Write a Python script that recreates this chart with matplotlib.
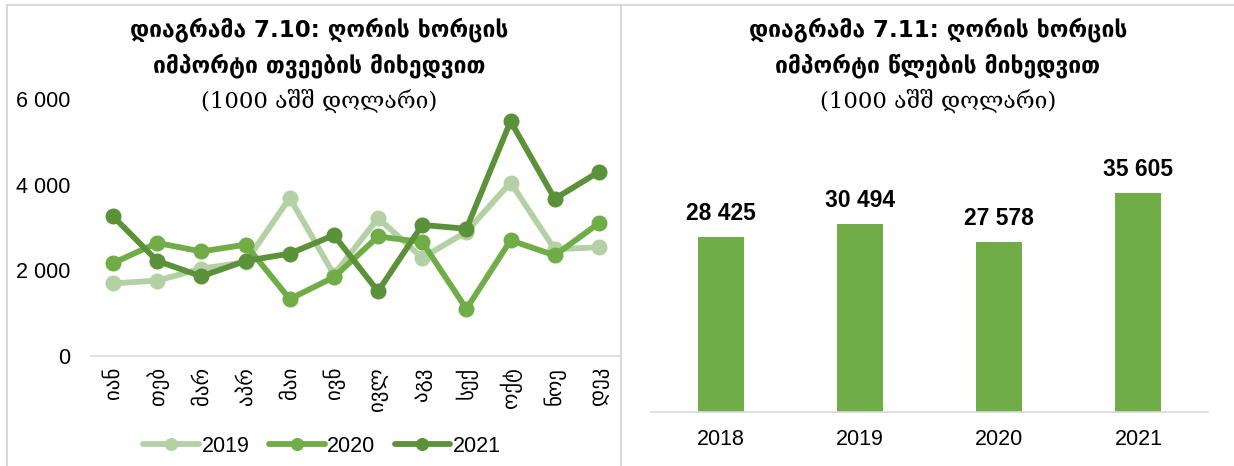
import matplotlib
matplotlib.use("Agg")
import matplotlib.pyplot as plt
from matplotlib.lines import Line2D
from matplotlib.ticker import FuncFormatter

months = ["იან", "თებ", "მარ", "აპრ", "მაი", "ივნ", "ივლ", "აგვ", "სექ", "ოქტ", "ნოე", "დეკ"]
v2019 = [1695, 1760, 2040, 2190, 3690, 1900, 3220, 2290, 2900, 4050, 2490, 2540]
v2020 = [2170, 2640, 2440, 2600, 1330, 1840, 2790, 2660, 1100, 2700, 2350, 3100]
v2021 = [3260, 2220, 1860, 2220, 2390, 2820, 1510, 3060, 2970, 5480, 3670, 4300]
series_names = ["2019", "2020", "2021"]

years = ["2018", "2019", "2020", "2021"]
year_totals = [28425, 30494, 27578, 35605]

c2019 = "#b4d1a6"
c2020 = "#70ad47"
c2021 = "#5b9239"

W, H = 1234, 466
fig = plt.figure(figsize=(W / 100, H / 100), dpi=100)
fig.patch.set_facecolor("white")

def fx(x):
    return x / W

def fy(y):
    return 1 - y / H

num_font = "Liberation Sans"
geo_bold = dict(family="DejaVu Sans", weight="bold")

# panel borders
border = "#d9d9d9"
for (x0, y0, x1, y1) in [(7, 5, 619, 5), (7, 5, 7, 466), (621, 5, 621, 466), (621, 5, 1234, 5)]:
    fig.add_artist(Line2D([fx(x0), fx(x1)], [fy(y0), fy(y1)], color=border, lw=1.5,
                          transform=fig.transFigure))

fmt = FuncFormatter(lambda v, p: f"{int(v):,}".replace(",", " "))

# ---------- left: monthly lines ----------
ax1 = fig.add_axes([fx(91), fy(356), fx(621) - fx(91), fy(99) - fy(356)])
x = list(range(len(months)))
for vals, col, name in [(v2019, c2019, "2019"), (v2020, c2020, "2020"), (v2021, c2021, "2021")]:
    ax1.plot(x, vals, color=col, lw=4.2, marker="o", ms=10.5, label=name,
             solid_capstyle="round", solid_joinstyle="round")
ax1.set_xlim(-0.5, 11.5)
ax1.set_ylim(0, 6000)
ax1.set_yticks([0, 2000, 4000, 6000])
ax1.yaxis.set_major_formatter(fmt)
ax1.set_xticks(x)
ax1.set_xticklabels(months, rotation=90, family="DejaVu Sans", fontsize=15)
for lab in ax1.get_yticklabels():
    lab.set_fontfamily(num_font)
    lab.set_fontsize(15.5)
ax1.tick_params(axis="y", length=0, pad=15)
ax1.tick_params(axis="x", length=0, pad=8)
for s in ["top", "right", "left"]:
    ax1.spines[s].set_visible(False)
ax1.spines["bottom"].set_color("#d9d9d9")
ax1.spines["bottom"].set_linewidth(1.2)
ax1.patch.set_alpha(0)

leg = fig.legend(handles=ax1.get_lines(), labels=series_names, loc="center",
                 bbox_to_anchor=(fx(322), fy(446)), ncol=3, frameon=False,
                 prop=dict(family=num_font, size=15.5), handlelength=2.6,
                 handletextpad=0.1, columnspacing=0.9, markerscale=0.8)

# titles
def titles(cx, l1, l2, l3):
    fig.text(fx(cx), fy(30), l1, ha="center", va="center", fontsize=16.5, **geo_bold)
    fig.text(fx(cx), fy(66), l2, ha="center", va="center", fontsize=16.5, **geo_bold)
    fig.text(fx(cx), fy(101), l3, ha="center", va="center", fontsize=16.5,
             family=["DejaVu Serif Condensed", "DejaVu Serif"])

titles(319, "დიაგრამა 7.10: ღორის ხორცის", "იმპორტი თვეების მიხედვით", "(1000 აშშ დოლარი)")
titles(938, "დიაგრამა 7.11: ღორის ხორცის", "იმპორტი წლების მიხედვით", "(1000 აშშ დოლარი)")

# ---------- right: yearly bars ----------
ax2 = fig.add_axes([fx(651), fy(412), fx(1208) - fx(651), fy(166) - fy(412)])
xb = list(range(len(years)))
bars = ax2.bar(xb, year_totals, width=0.33, color=c2020)
ax2.set_xlim(-0.5, 3.5)
ax2.set_ylim(0, 40000)
ax2.set_yticks([])
ax2.set_xticks(xb)
ax2.set_xticklabels(years, family=num_font, fontsize=15.5)
ax2.tick_params(axis="x", length=0, pad=12)
for s in ["top", "right", "left"]:
    ax2.spines[s].set_visible(False)
ax2.spines["bottom"].set_color("#d9d9d9")
ax2.spines["bottom"].set_linewidth(1.2)
for xi, v in zip(xb, year_totals):
    ax2.annotate(f"{v:,}".replace(",", " "), (xi, v), xytext=(0, 9), textcoords="offset points",
                 ha="center", va="bottom", family=num_font, weight="bold", fontsize=16.5)
ax2.patch.set_alpha(0)

fig.savefig("out.png", dpi=100, facecolor="white")
